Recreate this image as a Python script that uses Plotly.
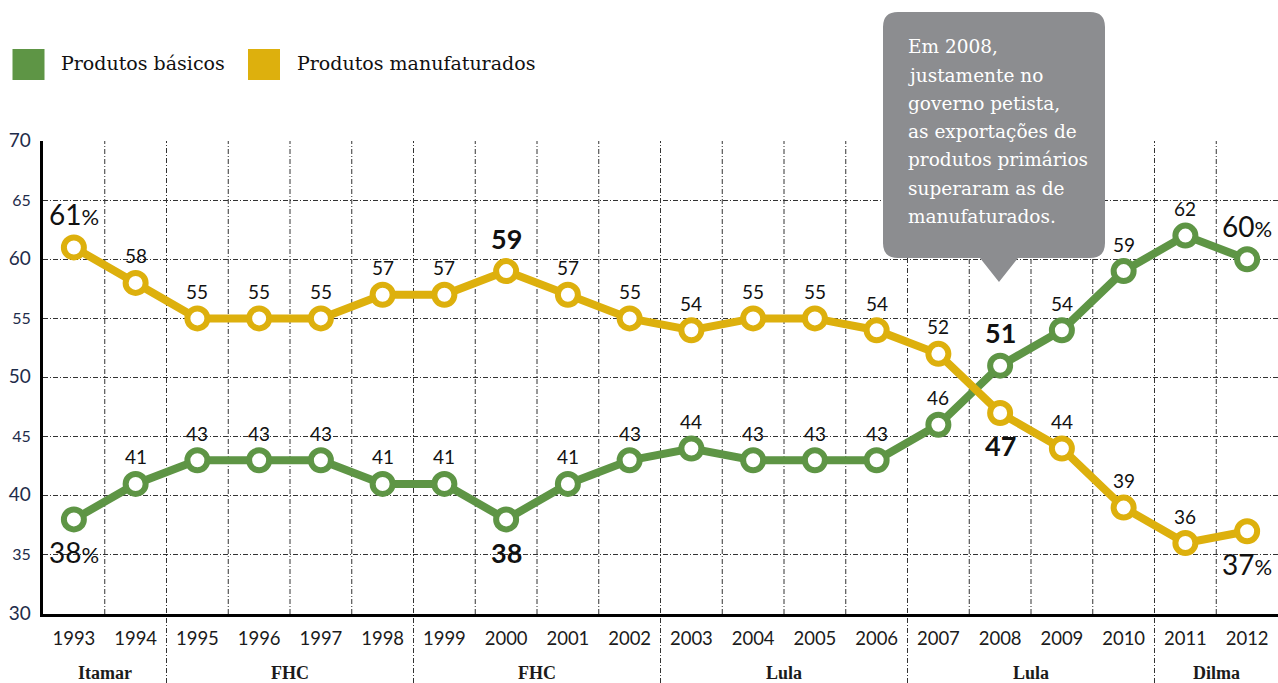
import plotly.graph_objects as go

# ---------------- data ----------------
years = list(range(1993, 2013))
basicos = [38, 41, 43, 43, 43, 41, 41, 38, 41, 43, 44, 43, 43, 43, 46, 51, 54, 59, 62, 60]
manufaturados = [61, 58, 55, 55, 55, 57, 57, 59, 57, 55, 54, 55, 55, 54, 52, 47, 44, 39, 36, 37]
series_names = ["Produtos básicos", "Produtos manufaturados"]
y_ticks = [30, 35, 40, 45, 50, 55, 60, 65, 70]
governos = ["Itamar", "FHC", "FHC", "Lula", "Lula", "Dilma"]
governo_anos = [(1993, 1994), (1995, 1998), (1999, 2002), (2003, 2006), (2007, 2010), (2011, 2012)]
callout_lines = ["Em 2008,", "justamente no", "governo petista,", "as exportações de",
                 "produtos primários", "superaram as de", "manufaturados."]

# label emphasis: year -> (placement, with percent sign)
destaque_basicos = {1993: ("below", True), 2000: ("below", False), 2008: ("above", False), 2012: ("above", True)}
destaque_manuf = {1993: ("above", True), 2000: ("above", False), 2008: ("below", False), 2012: ("below", True)}

# ---------------- style ----------------
GREEN = "#5e9545"
YELLOW = "#ddb00d"
BOX = "#8c8d90"
GRID_DASH = "5px,2px,1px,2px"
W, H = 1278, 683
L, R, T, B = 43, 0, 141, 69
PW, PH = W - L - R, H - T - B


def px(x):
    return (x - L) / PW


def py(y):
    return (H - B - y) / PH


fig = go.Figure()

for name, vals, color in [(series_names[0], basicos, GREEN), (series_names[1], manufaturados, YELLOW)]:
    fig.add_trace(go.Scatter(
        x=years, y=vals, mode="lines+markers", name=name, showlegend=False,
        line=dict(color=color, width=8),
        marker=dict(size=20, color="white", line=dict(color=color, width=6)),
        cliponaxis=False, hoverinfo="x+y",
    ))

annotations = []


def add_labels(vals, destaque):
    for yr, v in zip(years, vals):
        if yr in destaque:
            place, pct = destaque[yr]
            if pct:
                txt = f"{v}<span style='font-size:22px'>%</span>"
                font = dict(family="Lato", size=28, color="#111")
            else:
                txt = f"<b>{v}</b>"
                font = dict(family="Lato", size=27, color="#111")
            shift = 33 if place == "above" else -33
        else:
            txt = str(v)
            font = dict(family="Lato", size=19, color="#111")
            shift = 27
        annotations.append(dict(x=yr, y=v, xref="x", yref="y", text=txt, showarrow=False,
                                font=font, yshift=shift, xanchor="center", yanchor="middle"))


add_labels(basicos, destaque_basicos)
add_labels(manufaturados, destaque_manuf)

# government labels
for gov, (a, b) in zip(governos, governo_anos):
    annotations.append(dict(x=(a + b) / 2, y=py(673), xref="x", yref="paper", text=f"<b>{gov}</b>",
                            showarrow=False, font=dict(family="Liberation Serif", size=18, color="#1b1b1b"),
                            xanchor="center", yanchor="middle"))

# legend
legend_items = [(series_names[0], GREEN, 12.5, 59), (series_names[1], YELLOW, 248, 295)]
shapes = []
for name, color, sx, tx in legend_items:
    shapes.append(dict(type="rect", xref="paper", yref="paper", x0=px(sx), x1=px(sx + 32),
                       y0=py(49), y1=py(80), fillcolor=color, line=dict(width=0), layer="above"))
    annotations.append(dict(x=px(tx), y=py(63), xref="paper", yref="paper", text=name, showarrow=False,
                            font=dict(family="DejaVu Serif", size=19, color="#111"),
                            xanchor="left", yanchor="middle"))

# vertical grid lines between years
boundaries = [a - 0.5 for a, b in governo_anos[1:]]
for yr in years[:-1]:
    xb = yr + 0.5
    ext = xb in boundaries
    shapes.append(dict(type="line", xref="x", yref="paper", x0=xb, x1=xb,
                       y0=py(H) if ext else 0, y1=1,
                       line=dict(color="#333", width=1, dash=GRID_DASH), layer="below"))

# callout box
x0, x1, y0, y1, r = 883, 1105, 12, 258, 15
tip = (999, 282)
pts = [
    ("M", x0 + r, y0), ("L", x1 - r, y0), ("Q", x1, y0, x1, y0 + r), ("L", x1, y1 - r),
    ("Q", x1, y1, x1 - r, y1), ("L", 1018, y1), ("L", tip[0], tip[1]), ("L", 980, y1),
    ("L", x0 + r, y1), ("Q", x0, y1, x0, y1 - r), ("L", x0, y0 + r), ("Q", x0, y0, x0 + r, y0),
]
path = ""
for p in pts:
    cmd = p[0]
    coords = p[1:]
    segs = []
    for i in range(0, len(coords), 2):
        segs.append(f"{px(coords[i]):.5f},{py(coords[i + 1]):.5f}")
    path += cmd + " " + " ".join(segs) + " "
path += "Z"
shapes.append(dict(type="path", xref="paper", yref="paper", path=path, fillcolor=BOX,
                   line=dict(width=0), layer="above"))
for i, line in enumerate(callout_lines):
    annotations.append(dict(x=px(906), y=py(47 + 28.2 * i), xref="paper", yref="paper", text=line,
                            showarrow=False, font=dict(family="DejaVu Serif", size=18.5, color="white"),
                            xanchor="left", yanchor="middle"))

y_ticktext = [f"<span style='font-size:{19 if v % 10 == 0 else 16}px'>{v}</span>" for v in y_ticks]

fig.update_layout(
    width=W, height=H, margin=dict(l=L, r=R, t=T, b=B, pad=0),
    paper_bgcolor="white", plot_bgcolor="white",
    xaxis=dict(range=[1992.5, 2012.5], tickvals=years, ticktext=[str(y) for y in years],
               showgrid=False, zeroline=False, showline=True, linewidth=3, linecolor="black",
               ticks="", tickfont=dict(family="Lato", size=18.5, color="#1b1b1b"), ticklabelstandoff=6),
    yaxis=dict(range=[30, 70], tickvals=y_ticks, ticktext=y_ticktext, showgrid=True,
               gridcolor="#333", gridwidth=1, griddash=GRID_DASH, zeroline=False,
               showline=True, linewidth=3, linecolor="black", ticks="",
               tickfont=dict(family="Lato", size=16, color="#1e2c4a"), ticklabelstandoff=6),
    shapes=shapes, annotations=annotations, showlegend=False,
)

fig.write_html("out.html")
